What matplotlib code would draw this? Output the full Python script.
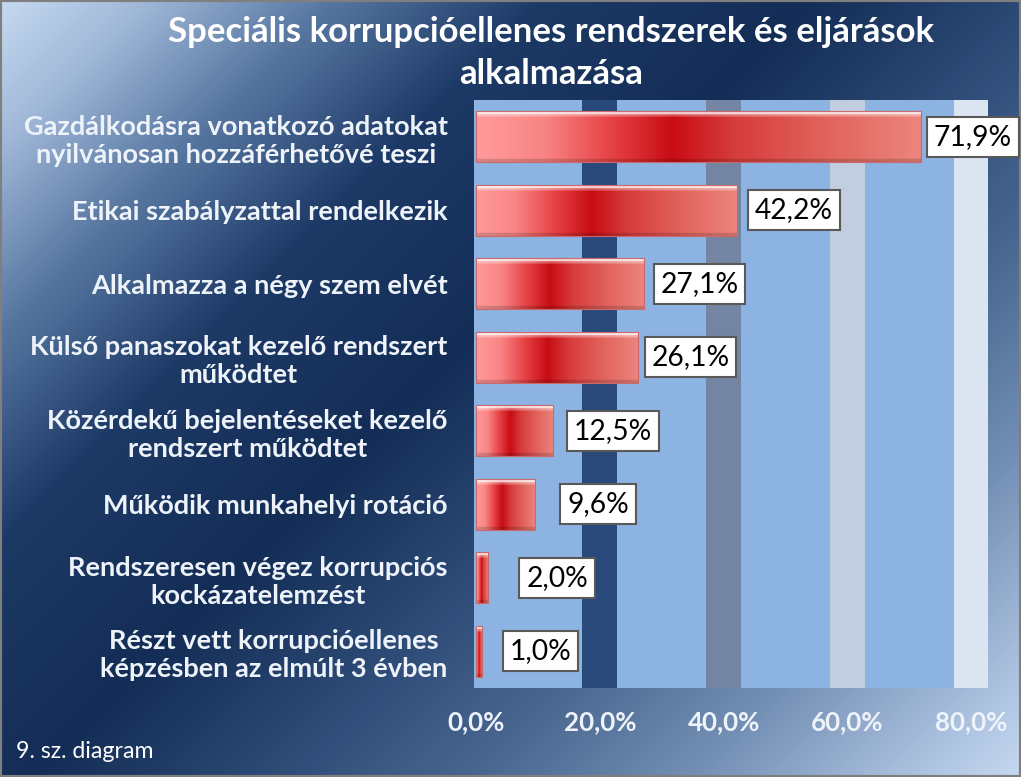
import numpy as np
import matplotlib.pyplot as plt
from matplotlib.colors import LinearSegmentedColormap
from matplotlib.patches import Rectangle

categories = [
    'Gazdálkodásra vonatkozó adatokat\nnyilvánosan hozzáférhetővé teszi',
    'Etikai szabályzattal rendelkezik',
    'Alkalmazza a négy szem elvét',
    'Külső panaszokat kezelő rendszert\nműködtet',
    'Közérdekű bejelentéseket kezelő\nrendszert működtet',
    'Működik munkahelyi rotáció',
    'Rendszeresen végez korrupciós\nkockázatelemzést',
    'Részt vett korrupcióellenes\nképzésben az elmúlt 3 évben',
]
values = [71.9, 42.2, 27.1, 26.1, 12.5, 9.6, 2.0, 1.0]
value_labels = ['71,9%', '42,2%', '27,1%', '26,1%', '12,5%', '9,6%', '2,0%', '1,0%']
ticks = [0, 20, 40, 60, 80]
tick_labels = ['0,0%', '20,0%', '40,0%', '60,0%', '80,0%']
title = 'Speciális korrupcióellenes rendszerek és eljárások\nalkalmazása'
note = '9. sz. diagram'

# gap (px) between bar end and label box, as placed in the original
label_gap_px = [6, 11, 10, 7, 14, 25, 31, 21]

W, H = 1021, 777
fig = plt.figure(figsize=(W / 100, H / 100), dpi=100)

# diagonal background gradient
bg = fig.add_axes([0, 0, 1, 1], zorder=0)
xx, yy = np.meshgrid(np.arange(W), np.arange(H))
t = (xx + yy) / (W + H)
bg_cmap = LinearSegmentedColormap.from_list('bg', [
    (0.0, '#c6d9f1'), (0.08, '#a0b8d8'), (0.18, '#5878a2'), (0.3, '#1d3a66'),
    (0.45, '#132d56'), (0.58, '#2d4b76'), (0.7, '#4a6891'), (0.82, '#7490b5'),
    (0.92, '#a3bad9'), (1.0, '#c6d9f1')])
bg.imshow(t, cmap=bg_cmap, vmin=0, vmax=1, aspect='auto', extent=(0, 1, 0, 1), origin='upper')
bg.set_xlim(0, 1)
bg.set_ylim(0, 1)
bg.axis('off')
bg.add_patch(Rectangle((0, 0), 1, 1, fill=False, ec='#7f7f7f', lw=3, transform=bg.transAxes))

ax = fig.add_axes([474 / W, 1 - 688 / H, 514 / W, 588 / H], zorder=1)
ax.set_facecolor('#8db3e2')
band_colors = ['#29497a', '#7385a3', '#c2cedf', '#dbe5f1']
for g, c in zip(ticks[1:], band_colors):
    ax.axvspan(g - 2.85, g + 2.85, color=c, lw=0, zorder=0)

# red glossy bars
bar_cmap = LinearSegmentedColormap.from_list('bar', [
    (0.0, '#ff9b9b'), (0.15, '#f98585'), (0.3, '#e64346'), (0.44, '#c80c14'),
    (0.58, '#d63c3c'), (0.8, '#e2665f'), (1.0, '#ec857e')])
row = bar_cmap(np.linspace(0, 1, 256))[:, :3]
img = np.repeat(row[None, :, :], 64, axis=0)
v = np.linspace(0, 1, 64)[:, None, None]
img = np.where(v < 0.05, img * 0.2 + 0.8, img)
img = np.where((v >= 0.05) & (v < 0.11), img * 0.7 + 0.3, img)
img = np.where(v > 0.95, img * 0.85, img)

bh = 0.69
lbl_size = 20.3
pad = 0.24
pad_px = pad * lbl_size * 100 / 72
for i, val in enumerate(values):
    ax.imshow(img, extent=(0, val, i + bh / 2, i - bh / 2), origin='upper',
              aspect='auto', zorder=2, interpolation='bilinear')
    ax.add_patch(Rectangle((0, i - bh / 2), val, bh, fill=False, ec='#c86a6a', lw=0.8, zorder=3))
    ax.annotate(value_labels[i], xy=(val, i),
                xytext=((label_gap_px[i] + pad_px) * 0.72, 0), textcoords='offset points',
                ha='left', va='center', fontsize=lbl_size, family='Lato', color='black',
                bbox=dict(boxstyle=f'square,pad={pad}', fc='white', ec='#595959', lw=1.5),
                annotation_clip=False, zorder=5)

ax.set_xlim(-0.32, 82.7)
ax.set_ylim(7.5, -0.5)
ax.set_yticks(range(len(categories)))
ax.set_yticklabels(categories, fontsize=19.5, fontweight='bold', family='Lato',
                   color='#eef3fa', multialignment='center')
ax.set_xticks(ticks)
ax.set_xticklabels(tick_labels, fontsize=18.6, fontweight='bold', family='Lato', color='#eef3fa')
ax.tick_params(axis='y', length=0, pad=19)
ax.tick_params(axis='x', length=0, pad=16)
for s in ax.spines.values():
    s.set_visible(False)

fig.text(551 / W, 1 - 53 / H, title, ha='center', va='center', fontsize=25,
         fontweight='bold', family='Lato', color='white', linespacing=1.35)
fig.text(16 / W, 1 - 752 / H, note, ha='left', va='center', fontsize=16.7,
         family='Lato', color='white')

fig.savefig('out.png', dpi=100)
